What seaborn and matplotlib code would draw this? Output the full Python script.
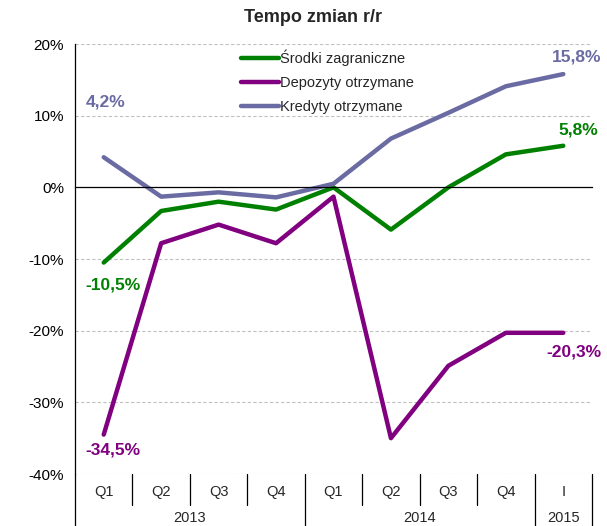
import numpy as np
import pandas as pd
import matplotlib
matplotlib.use("Agg")
import matplotlib.pyplot as plt
import matplotlib.transforms as mtransforms
import seaborn as sns

quarters = ["Q1", "Q2", "Q3", "Q4", "Q1", "Q2", "Q3", "Q4", "I"]
years = ["2013", "2013", "2013", "2013", "2014", "2014", "2014", "2014", "2015"]
srodki = [-10.5, -3.3, -2.0, -3.1, 0.0, -5.9, 0.0, 4.6, 5.8]
depozyty = [-34.5, -7.8, -5.2, -7.8, -1.3, -35.0, -24.9, -20.3, -20.3]
kredyty = [4.2, -1.3, -0.7, -1.4, 0.5, 6.8, 10.4, 14.1, 15.8]
series_names = ["Środki zagraniczne", "Depozyty otrzymane", "Kredyty otrzymane"]
colors = ["#008000", "#800080", "#6B6BA3"]
yticks = [20, 10, 0, -10, -20, -30, -40]

sns.set_style("white")
plt.rcParams["font.family"] = ["Liberation Sans", "DejaVu Sans"]

rows = []
for name, vals in zip(series_names, [srodki, depozyty, kredyty]):
    for i, v in enumerate(vals):
        rows.append({"x": i, "value": v, "series": name})
df = pd.DataFrame(rows)

fig = plt.figure(figsize=(6.07, 5.26), dpi=100)
ax = fig.add_axes([75 / 607, 1 - 474 / 526, 517 / 607, 430 / 526])

sns.lineplot(data=df, x="x", y="value", hue="series", hue_order=series_names,
             palette=colors, linewidth=3.2, ax=ax, sort=False)

ax.set_xlim(-0.5, len(quarters) - 0.5)
ax.set_ylim(-40, 20)
ax.set_yticks(yticks)
ax.set_yticklabels([f"{t}%" for t in yticks], fontsize=11)
ax.set_xlabel("")
ax.set_ylabel("")

# grid
for t in yticks:
    if t != 0:
        ax.axhline(t, color="#c0c0c0", linestyle=(0, (3, 2)), linewidth=0.8, zorder=0)

# spines
for s in ["top", "right"]:
    ax.spines[s].set_visible(False)
ax.spines["left"].set_color("black")
ax.spines["left"].set_linewidth(0.9)
ax.spines["bottom"].set_position(("data", 0))
ax.spines["bottom"].set_color("black")
ax.spines["bottom"].set_linewidth(0.9)
bounds = np.arange(-0.5, len(quarters), 1.0)
ax.set_xticks(bounds)
ax.set_xticklabels([])
ax.tick_params(axis="x", direction="out", length=4, width=0.9, colors="black", pad=0)
ax.tick_params(axis="y", direction="out", length=4, width=0.9, colors="black", pad=4)
for lab in ax.get_yticklabels():
    lab.set_color("black")

# category labels below
trans = mtransforms.blended_transform_factory(ax.transData, ax.transAxes)
for i, q in enumerate(quarters):
    ax.text(i, -0.042, q, transform=trans, ha="center", va="center", fontsize=10.5)
year_groups = {}
for i, y in enumerate(years):
    year_groups.setdefault(y, []).append(i)
for y, idx in year_groups.items():
    ax.text(np.mean(idx), -0.103, y, transform=trans, ha="center", va="center", fontsize=10.5)
long_b = {-0.5, len(quarters) - 0.5}
for i in range(1, len(years)):
    if years[i] != years[i - 1]:
        long_b.add(i - 0.5)
for b in bounds:
    y_end = -0.125 if b in long_b else -0.072
    ax.plot([b, b], [0, y_end], transform=trans, color="black", linewidth=0.9, clip_on=False)

# legend
handles, labels = ax.get_legend_handles_labels()
leg = ax.legend(handles, labels, loc="upper left", bbox_to_anchor=(0.31, 1.0),
                frameon=False, fontsize=10.5, handlelength=2.6, handletextpad=0.1,
                labelspacing=0.68, borderaxespad=0.0)
for line in leg.get_lines():
    line.set_linewidth(3.2)

# data labels
bold = dict(fontsize=12.5, fontweight="bold", ha="center", va="center")
ax.annotate("4,2%", (0, kredyty[0]), xytext=(1.5, 40), textcoords="offset points", color=colors[2], **bold)
ax.annotate("15,8%", (8, kredyty[8]), xytext=(9.5, 12), textcoords="offset points", color=colors[2], annotation_clip=False, **bold)
ax.annotate("5,8%", (8, srodki[8]), xytext=(11, 11.5), textcoords="offset points", color=colors[0], annotation_clip=False, **bold)
ax.annotate("-10,5%", (0, srodki[0]), xytext=(6.5, -16), textcoords="offset points", color=colors[0], **bold)
ax.annotate("-34,5%", (0, depozyty[0]), xytext=(6.5, -11), textcoords="offset points", color=colors[1], **bold)
ax.annotate("-20,3%", (8, depozyty[8]), xytext=(7.5, -13.5), textcoords="offset points", color=colors[1], annotation_clip=False, **bold)

fig.text(313 / 607, 1 - 18 / 526, "Tempo zmian r/r", ha="center", va="center",
         fontsize=13, fontweight="bold")

fig.savefig("out.png", dpi=100)
